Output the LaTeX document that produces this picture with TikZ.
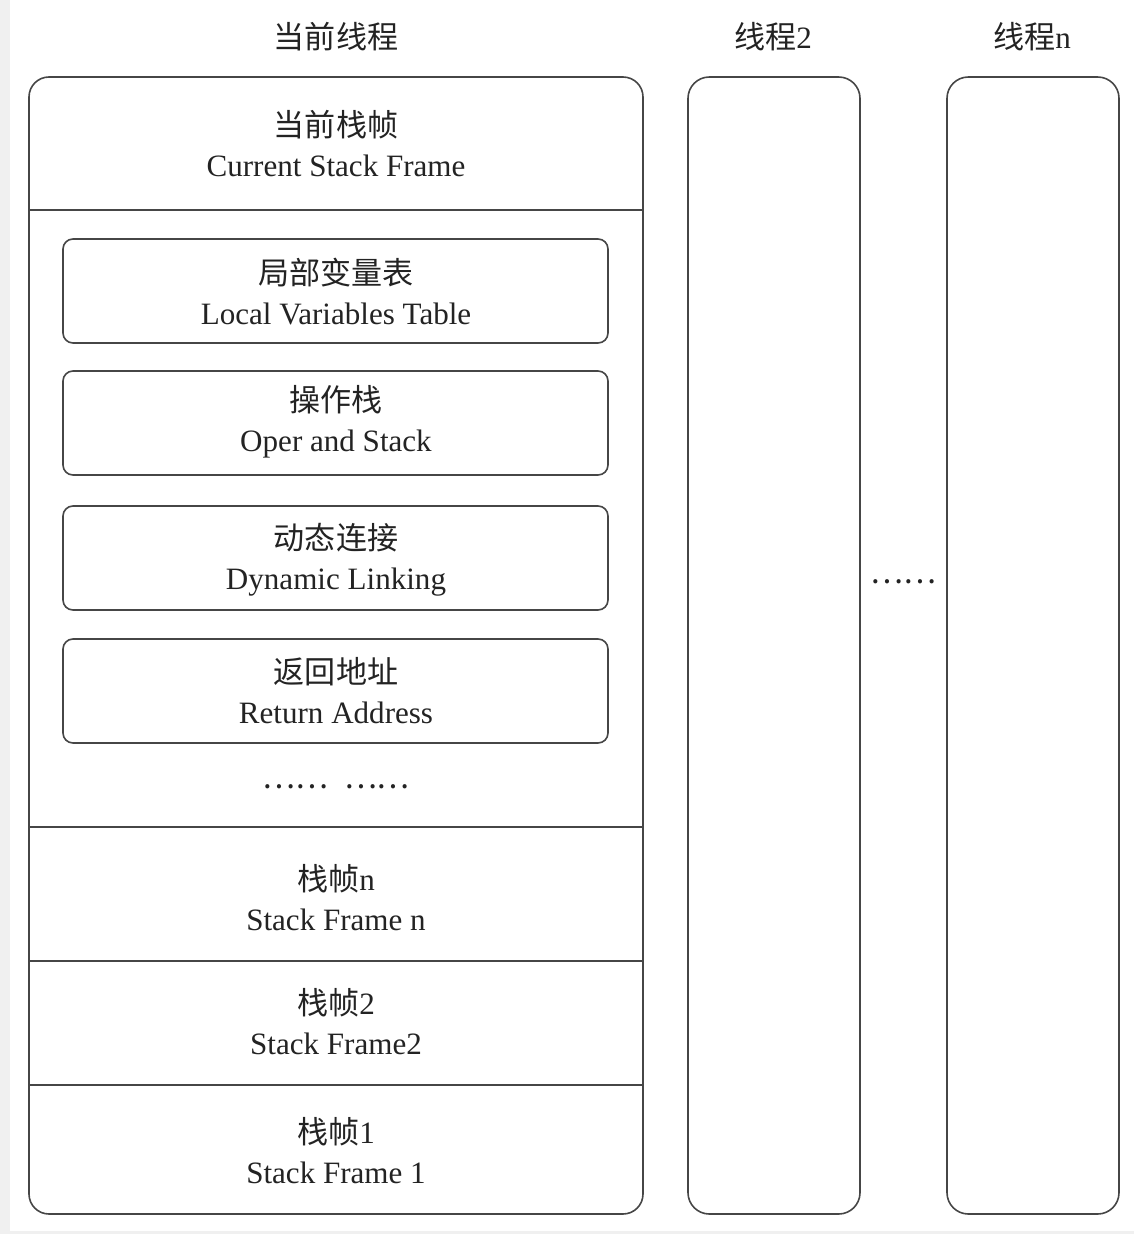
\documentclass[tikz,border=0pt]{standalone}
\usepackage{fontspec}
\setmainfont{Liberation Serif}
\newfontfamily\cjk{Noto Sans CJK SC}
\usepackage{xcolor}
\definecolor{linegray}{RGB}{70,70,70}
\definecolor{textgray}{RGB}{35,35,35}
\definecolor{edgegray}{RGB}{240,240,240}
\tikzset{
  framebox/.style={draw=linegray,line width=1.2pt},
  frametext/.style={text=textgray,align=center,inner sep=0.75pt,font=\fontsize{23.3}{30}\selectfont},
}

\begin{document}
\begin{tikzpicture}[x=0.75pt,y=0.75pt,yscale=-1,xscale=1]
\useasboundingbox (0,0) rectangle (1134,1234);
\fill[edgegray] (0,0) rectangle (1134,1234);
\fill[white] (10,0) rectangle (1134,1231);

% thread boxes
\draw [framebox,rounded corners=15pt] (29,77) rectangle (643,1214);
\draw [framebox,rounded corners=16pt] (688,77) rectangle (860,1214);
\draw [framebox,rounded corners=16pt] (947,77) rectangle (1119,1214);

% frame dividers
\draw [framebox] (29,210) -- (643,210);
\draw [framebox] (29,827) -- (643,827);
\draw [framebox] (29,961) -- (643,961);
\draw [framebox] (29,1085) -- (643,1085);

% parts of the current frame
\draw [framebox,rounded corners=7.5pt] (63,239) rectangle (608,343);
\draw [framebox,rounded corners=7.5pt] (63,371) rectangle (608,475);
\draw [framebox,rounded corners=7.5pt] (63,506) rectangle (608,610);
\draw [framebox,rounded corners=7.5pt] (63,639) rectangle (608,743);

\draw (336,37) node [frametext] (thcur) {\cjk 当前线程};
\draw (773,37) node [frametext] (th2) {{\cjk 线程}2};
\draw (1032,37) node [frametext] (thn) {{\cjk 线程}n};

\draw (336,144) node [frametext] (cur) {{\cjk 当前栈帧}\\Current Stack Frame};
\draw (336,292) node [frametext] (lvt) {{\cjk 局部变量表}\\Local Variables Table};
\draw (336,422) node [frametext] (ops) {{\cjk 操作栈}\\Oper and Stack};
\draw (336,560) node [frametext] (dyn) {{\cjk 动态连接}\\Dynamic Linking};
\draw (336,691) node [frametext] (ret) {{\cjk 返回地址}\\Return Address};
\draw (336,787) node [frametext] (more) {{\cjk ……}\hspace{12pt}{\cjk ……}};

\draw (336,898) node [frametext] (sfn) {{\cjk 栈帧}n\\Stack Frame n};
\draw (336,1022) node [frametext] (sftwo) {{\cjk 栈帧}2\\Stack Frame2};
\draw (336,1151) node [frametext] (sfone) {{\cjk 栈帧}1\\Stack Frame 1};

\draw (903,582) node [frametext] (gap) {\cjk ……};

\end{tikzpicture}
\end{document}
